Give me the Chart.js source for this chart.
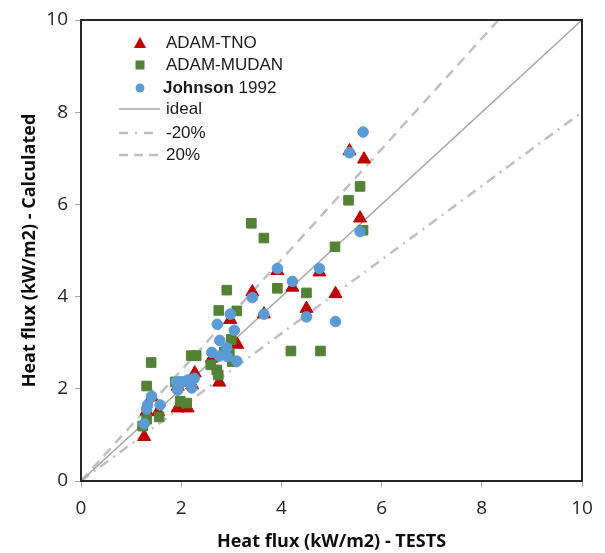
<!DOCTYPE html>
<html>
<head>
<meta charset="utf-8">
<script src="https://cdn.jsdelivr.net/npm/chart.js@4/dist/chart.umd.min.js"></script>
<style>
  html, body { margin: 0; padding: 0; background: #ffffff; }
  #wrap { width: 605px; height: 553px; position: relative; }
</style>
</head>
<body>
<div id="wrap"><canvas id="c" width="605" height="553"></canvas></div>
<script>
// ---- data (x = TESTS, y = Calculated), kW/m2 ----
const seriesNames = ["ADAM-TNO", "ADAM-MUDAN", "Johnson 1992", "ideal", "-20%", "20%"];

const tnoX = [1.26, 1.31, 1.41, 1.54, 1.93, 2.13, 1.93, 2.22, 2.27, 2.61, 2.76, 3.12, 2.98, 3.65, 3.42, 3.92, 4.22, 4.50, 4.76, 5.08, 5.36, 5.65, 5.57];
const tnoY = [0.96, 1.51, 1.82, 1.50, 1.58, 1.58, 2.05, 2.08, 2.34, 2.66, 2.14, 2.96, 3.50, 3.62, 4.10, 4.56, 4.20, 3.74, 4.53, 4.06, 7.16, 6.98, 5.70];

const mudanX = [1.23, 1.31, 1.56, 1.31, 1.40, 1.88, 2.04, 1.98, 2.11, 2.20, 2.30, 2.59, 2.71, 2.74, 2.96, 3.02, 3.00, 2.75, 3.11, 2.91, 3.92, 4.50, 3.40, 3.65, 4.19, 4.78, 5.07, 5.34, 5.57, 5.63, 2.86];
const mudanY = [1.19, 1.34, 1.39, 2.06, 2.57, 2.15, 2.15, 1.73, 1.69, 2.72, 2.72, 2.52, 2.41, 2.30, 2.77, 2.59, 3.07, 3.70, 3.69, 4.14, 4.18, 4.08, 5.59, 5.27, 2.82, 2.82, 5.08, 6.09, 6.39, 5.44, 2.80];

const johnsonX = [1.26, 1.31, 1.33, 1.41, 1.58, 1.90, 2.01, 2.13, 2.26, 1.93, 2.21, 2.61, 2.76, 2.92, 3.11, 2.77, 2.91, 2.72, 3.06, 2.98, 3.65, 3.42, 3.92, 4.22, 4.50, 4.76, 5.08, 5.36, 5.63, 5.57];
const johnsonY = [1.24, 1.56, 1.65, 1.84, 1.65, 2.15, 2.15, 2.19, 2.23, 1.97, 2.02, 2.79, 2.71, 2.70, 2.60, 3.05, 2.89, 3.40, 3.27, 3.62, 3.62, 3.98, 4.61, 4.33, 3.56, 4.61, 3.46, 7.12, 7.57, 5.41];

const idealX = [0, 10];
const idealY = [0, 10];
const minus20X = [0, 10];
const minus20Y = [0, 8];
const plus20X = [0, 8.333];
const plus20Y = [0, 10];

const axisTicks = [0, 2, 4, 6, 8, 10];
const xTitle = "Heat flux (kW/m2) - TESTS";
const yTitle = "Heat flux (kW/m2) - Calculated";

// ---- build ----
const pts = (xs, ys) => xs.map((x, i) => ({ x: x, y: ys[i] }));

const RED = "#c00000", GREEN = "#548235", BLUE = "#5b9bd5";
const LINE_IDEAL = "#a6a6a6", LINE_PCT = "#bfbfbf";
const DASH_DOT = [10, 6, 2, 6], DASH = [10, 7];

const datasets = [
  { label: seriesNames[0], data: pts(tnoX, tnoY), showLine: false, pointStyle: "triangle",
    pointRadius: 7.5, pointHoverRadius: 7.5, backgroundColor: RED, borderColor: RED, borderWidth: 1, order: 3 },
  { label: seriesNames[1], data: pts(mudanX, mudanY), showLine: false, pointStyle: "rect",
    pointRadius: 6.8, pointHoverRadius: 6.8, backgroundColor: GREEN, borderColor: GREEN, borderWidth: 1, order: 2 },
  { label: seriesNames[2], data: pts(johnsonX, johnsonY), showLine: false, pointStyle: "circle",
    pointRadius: 5.3, pointHoverRadius: 5.3, backgroundColor: BLUE, borderColor: BLUE, borderWidth: 1, order: 1 },
  { label: seriesNames[3], data: pts(idealX, idealY), showLine: true, pointRadius: 0,
    borderColor: LINE_IDEAL, borderWidth: 1.5, order: 4 },
  { label: seriesNames[4], data: pts(minus20X, minus20Y), showLine: true, pointRadius: 0,
    borderColor: LINE_PCT, borderWidth: 2.5, borderDash: DASH_DOT, order: 5 },
  { label: seriesNames[5], data: pts(plus20X, plus20Y), showLine: true, pointRadius: 0,
    borderColor: LINE_PCT, borderWidth: 2.5, borderDash: DASH, order: 6 }
];

const legendFont = '17px "Liberation Sans", Arial, sans-serif';
const legendFontBold = 'bold 17px "Liberation Sans", Arial, sans-serif';

const framePlugin = {
  id: "frameAndLegend",
  afterDatasetsDraw(chart) {
    const ctx = chart.ctx;
    const a = chart.chartArea;
    ctx.save();
    // plot frame
    ctx.strokeStyle = "#262626";
    ctx.lineWidth = 2;
    ctx.strokeRect(a.left, a.top, a.right - a.left, a.bottom - a.top);

    // legend inside the plot area
    const mx = a.left + 59, tx = a.left + 85;
    const rows = [a.top + 23, a.top + 45, a.top + 68, a.top + 89, a.top + 113, a.top + 135];
    ctx.textBaseline = "middle";
    // triangle
    ctx.fillStyle = RED;
    ctx.beginPath();
    ctx.moveTo(mx, rows[0] - 6);
    ctx.lineTo(mx + 6, rows[0] + 5);
    ctx.lineTo(mx - 6, rows[0] + 5);
    ctx.closePath();
    ctx.fill();
    // square
    ctx.fillStyle = GREEN;
    ctx.fillRect(mx - 4.5, rows[1] - 4.5, 9, 9);
    // circle
    ctx.fillStyle = BLUE;
    ctx.beginPath();
    ctx.arc(mx, rows[2], 4.5, 0, Math.PI * 2);
    ctx.fill();

    // line samples
    const lx0 = a.left + 38, lx1 = a.left + 79;
    const drawSample = (y, color, width, dash) => {
      ctx.strokeStyle = color;
      ctx.lineWidth = width;
      ctx.setLineDash(dash);
      ctx.beginPath();
      ctx.moveTo(lx0, y);
      ctx.lineTo(lx1, y);
      ctx.stroke();
    };
    drawSample(rows[3], LINE_IDEAL, 1.5, []);
    drawSample(rows[4], LINE_PCT, 2.5, [9, 7, 2, 7]);
    drawSample(rows[5], LINE_PCT, 2.5, [9, 6]);
    ctx.setLineDash([]);

    // texts
    ctx.fillStyle = "#1a1a1a";
    ctx.textAlign = "left";
    ctx.font = legendFont;
    ctx.fillText(seriesNames[0], tx, rows[0]);
    ctx.fillText(seriesNames[1], tx, rows[1]);
    const parts = seriesNames[2].split(" ");
    ctx.font = legendFontBold;
    ctx.fillText(parts[0], tx - 3, rows[2]);
    const w = ctx.measureText(parts[0] + " ").width;
    ctx.font = legendFont;
    ctx.fillText(parts.slice(1).join(" "), tx - 3 + w, rows[2]);
    ctx.fillText(seriesNames[3], tx, rows[3]);
    ctx.fillText(seriesNames[4], tx, rows[4]);
    ctx.fillText(seriesNames[5], tx, rows[5]);
    ctx.restore();
  }
};

const tickFont = { family: '"Open Sans", "Noto Sans", sans-serif', size: 19 };
const titleFont = { family: '"Open Sans", "Noto Sans", sans-serif', size: 18, weight: "bold" };

new Chart(document.getElementById("c"), {
  type: "scatter",
  data: { datasets: datasets },
  options: {
    responsive: false,
    animation: false,
    devicePixelRatio: 1,
    layout: { padding: { top: 20, right: 23, left: 0, bottom: 0 } },
    plugins: { legend: { display: false }, tooltip: { enabled: false } },
    scales: {
      x: {
        type: "linear", min: 0, max: 10,
        afterBuildTicks: (s) => { s.ticks = axisTicks.map(v => ({ value: v })); },
        afterFit: (s) => { s.height = 72; },
        ticks: { font: tickFont, color: "#262626", padding: 10, maxRotation: 0 },
        grid: { display: true, drawOnChartArea: false, drawTicks: true, tickLength: 6, color: "#a6a6a6" },
        border: { display: false },
        title: { display: true, text: xTitle, font: titleFont, color: "#0d0d0d", padding: { top: 0, bottom: 0 } }
      },
      y: {
        type: "linear", min: 0, max: 10,
        afterBuildTicks: (s) => { s.ticks = axisTicks.map(v => ({ value: v })); },
        afterFit: (s) => { s.width = 81; },
        ticks: { font: tickFont, color: "#262626", padding: 7 },
        grid: { display: true, drawOnChartArea: false, drawTicks: true, tickLength: 6, color: "#a6a6a6" },
        border: { display: false },
        title: { display: true, text: yTitle, font: titleFont, color: "#0d0d0d", padding: { top: 19, bottom: 0 } }
      }
    }
  },
  plugins: [framePlugin]
});
</script>
</body>
</html>
